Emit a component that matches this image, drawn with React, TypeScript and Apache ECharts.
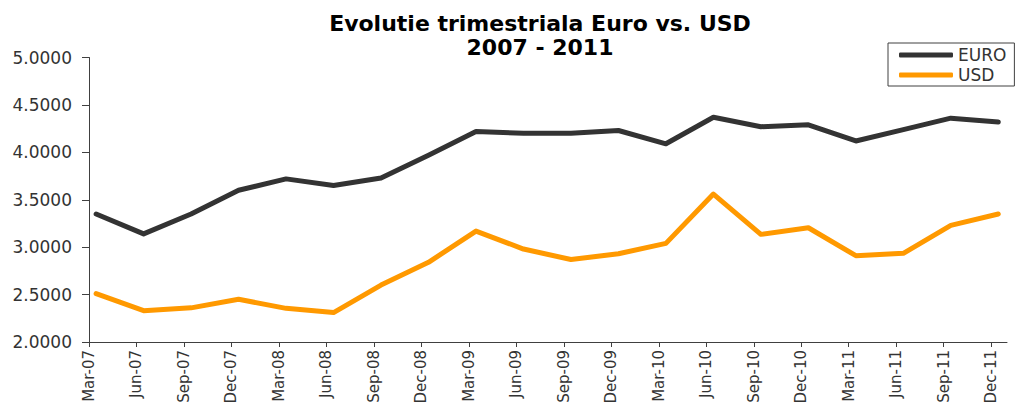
import React, { useEffect, useRef } from "react";
import * as echarts from "echarts";

const titleLine = "Evolutie trimestriala Euro vs. USD";
const subtitleLine = "2007 - 2011";

const quarters = [
  "Mar-07", "Jun-07", "Sep-07", "Dec-07",
  "Mar-08", "Jun-08", "Sep-08", "Dec-08",
  "Mar-09", "Jun-09", "Sep-09", "Dec-09",
  "Mar-10", "Jun-10", "Sep-10", "Dec-10",
  "Mar-11", "Jun-11", "Sep-11", "Dec-11",
];

const euroValues = [
  3.35, 3.14, 3.35, 3.6,
  3.72, 3.65, 3.73, 3.97,
  4.22, 4.2, 4.2, 4.23,
  4.09, 4.37, 4.27, 4.29,
  4.12, 4.24, 4.36, 4.32,
];

const usdValues = [
  2.51, 2.33, 2.36, 2.45,
  2.355, 2.31, 2.6, 2.84,
  3.17, 2.98, 2.87, 2.93,
  3.04, 3.56, 3.135, 3.205,
  2.91, 2.935, 3.23, 3.35,
];

const yTicks = [2.0, 2.5, 3.0, 3.5, 4.0, 4.5, 5.0];

// Date axis measured in months from Mar-07 (tick = first day of month,
// each quarterly value sits about mid-month).
const MONTHS_PER_QUARTER = 3;
const VALUE_DAY_OFFSET = 0.45; // fraction of a month
const AXIS_END_MONTHS = quarters.length * MONTHS_PER_QUARTER - 2; // end of Dec-11

const tickMonths = quarters.map((_, i) => i * MONTHS_PER_QUARTER);

export default function App() {
  const ref = useRef<HTMLDivElement>(null);

  useEffect(() => {
    document.body.style.margin = "0";
    const chart = echarts.init(ref.current!, null, { renderer: "svg" });
    const mk = (vals: number[]) =>
      vals.map((v, i) => [i * MONTHS_PER_QUARTER + VALUE_DAY_OFFSET, v]);

    const titleFont = {
      fontFamily: "DejaVu Sans",
      fontWeight: "bold",
      fontSize: 22,
      lineHeight: 22,
      color: "#000000",
    };

    chart.setOption({
      animation: false,
      backgroundColor: "#ffffff",
      title: {
        text: titleLine,
        subtext: subtitleLine,
        left: 540,
        textAlign: "center",
        top: 12,
        padding: 0,
        itemGap: 2,
        textStyle: titleFont,
        subtextStyle: titleFont,
      },
      legend: {
        orient: "vertical",
        left: 888,
        top: 43,
        padding: [2, 8, 1, 11],
        itemGap: 0,
        itemWidth: 54,
        itemHeight: 5,
        borderColor: "#404040",
        borderWidth: 1,
        textStyle: {
          fontFamily: "DejaVu Sans",
          fontSize: 17,
          lineHeight: 20,
          color: "#333333",
        },
        data: [
          { name: "EURO", icon: "roundRect" },
          { name: "USD", icon: "roundRect" },
        ],
      },
      grid: {
        left: 89,
        right: 11,
        top: 57.5,
        bottom: 65,
        containLabel: false,
      },
      xAxis: {
        type: "value",
        min: 0,
        max: AXIS_END_MONTHS,
        interval: MONTHS_PER_QUARTER,
        splitLine: { show: false },
        axisLine: { show: true, onZero: false, lineStyle: { color: "#404040", width: 1 } },
        axisTick: {
          show: true,
          length: 5,
          customValues: tickMonths,
          lineStyle: { color: "#404040", width: 1 },
        },
        axisLabel: {
          customValues: tickMonths,
          rotate: 90,
          margin: 8,
          fontFamily: "DejaVu Sans",
          fontSize: 15,
          color: "#333333",
          formatter: (v: number) => quarters[Math.round(v / MONTHS_PER_QUARTER)] ?? "",
        },
      },
      yAxis: {
        type: "value",
        min: yTicks[0],
        max: yTicks[yTicks.length - 1],
        interval: 0.5,
        splitLine: { show: false },
        axisLine: { show: true, lineStyle: { color: "#404040", width: 1 } },
        axisTick: { show: true, length: 7, lineStyle: { color: "#404040", width: 1 } },
        axisLabel: {
          margin: 17,
          fontFamily: "DejaVu Sans",
          fontSize: 17,
          color: "#333333",
          formatter: (v: number) => v.toFixed(4),
        },
      },
      series: [
        {
          name: "EURO",
          type: "line",
          data: mk(euroValues),
          showSymbol: false,
          symbol: "none",
          color: "#333333",
          lineStyle: { color: "#333333", width: 5, cap: "round", join: "round" },
        },
        {
          name: "USD",
          type: "line",
          data: mk(usdValues),
          showSymbol: false,
          symbol: "none",
          color: "#FF9900",
          lineStyle: { color: "#FF9900", width: 5, cap: "round", join: "round" },
        },
      ],
    });
    return () => chart.dispose();
  }, []);

  return <div ref={ref} style={{ width: 1018, height: 407 }} />;
}
